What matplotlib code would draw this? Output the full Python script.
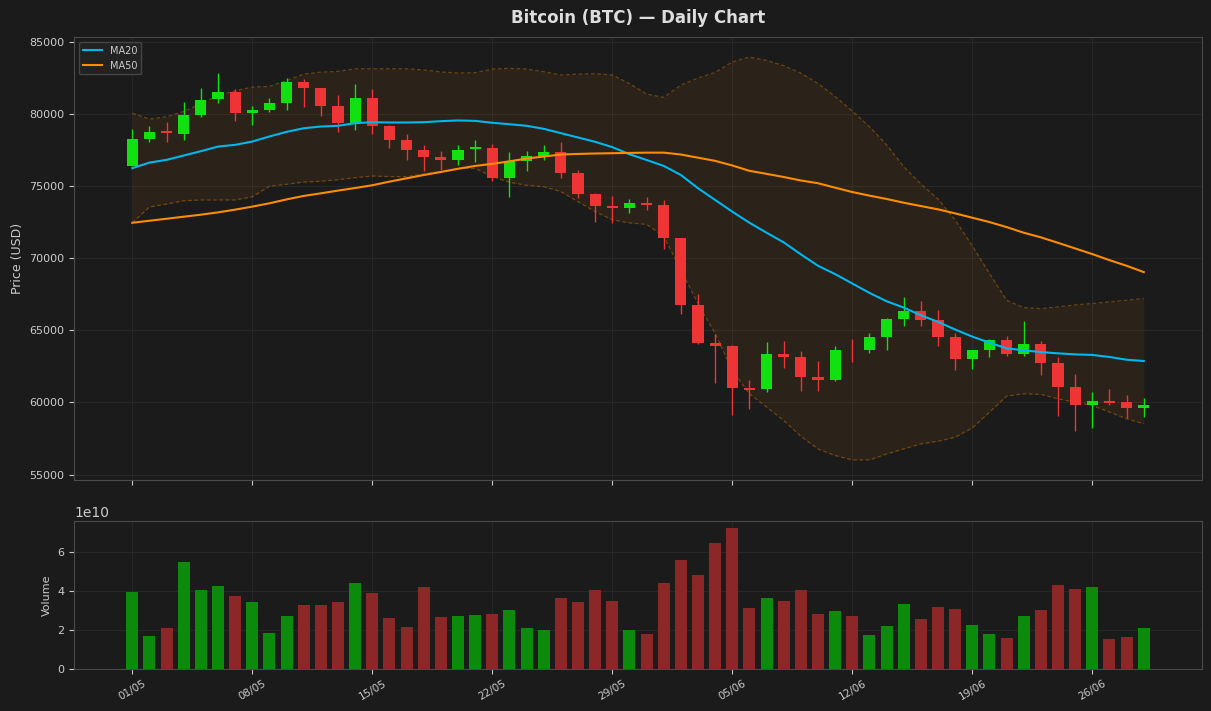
import matplotlib
matplotlib.use('Agg')
import matplotlib.pyplot as plt
import matplotlib.dates as mdates
import numpy as np
import pandas as pd

# ---------------- data ----------------
dates = pd.date_range('2024-05-01', periods=60, freq='D')

opens = [76400, 78260, 78800, 78610, 79930, 81040, 81530, 80070, 80280, 80760,
         82220, 81810, 80560, 79380, 81110, 79170, 78190, 77500, 77010, 76810,
         77550, 77640, 75560, 76740, 77080, 77360, 75900, 74440, 73610, 73470,
         73820, 73680, 71390, 66740, 64100, 63890, 61000, 60900, 63330, 63130,
         61740, 61530, 63650, 63610, 64510, 65760, 66320, 65690, 64510, 62990,
         63610, 64310, 63330, 64030, 62710, 61040, 59790, 60100, 60000, 59580]
highs = [78960, 79170, 79440, 80830, 81810, 82850, 81710, 80560, 81110, 82500,
         82430, 81810, 81320, 82080, 81740, 79240, 78610, 77850, 77430, 77850,
         78190, 77920, 77360, 77430, 77850, 78060, 76110, 74510, 74310, 74100,
         74240, 74030, 71390, 67500, 64720, 63960, 61530, 64170, 64240, 63540,
         62850, 63890, 64380, 64790, 65830, 67290, 67010, 66390, 64790, 63610,
         64380, 64580, 65620, 64240, 63120, 61940, 60690, 60900, 60490, 60280]
lows = [76350, 78050, 78060, 78190, 79790, 80760, 79510, 79240, 80140, 80280,
        80490, 79860, 78750, 78890, 78610, 77640, 76810, 76040, 76110, 76460,
        76670, 75350, 74240, 76040, 76810, 75560, 74170, 72500, 72430, 73130,
        73330, 70630, 66110, 64030, 61320, 59100, 59510, 60690, 62360, 60760,
        60760, 61460, 62780, 63400, 63610, 65280, 65280, 63890, 62220, 62290,
        63120, 63190, 63190, 61870, 59030, 58050, 58260, 59790, 58890, 58960]
closes = [78260, 78750, 78650, 79930, 80970, 81530, 80070, 80280, 80760, 82220,
          81810, 80560, 79380, 81110, 79170, 78190, 77500, 77010, 76810, 77500,
          77680, 75560, 76740, 77080, 77360, 75900, 74440, 73610, 73470, 73820,
          73680, 71390, 66740, 64100, 63890, 60970, 60880, 63330, 63130, 61740,
          61530, 63610, 63620, 64510, 65760, 66320, 65690, 64510, 62990, 63610,
          64310, 63330, 64030, 62710, 61040, 59790, 60070, 59990, 59580, 59790]
volumes = [3.94e10, 1.69e10, 2.10e10, 5.47e10, 4.04e10, 4.24e10, 3.73e10, 3.43e10, 1.84e10, 2.71e10,
           3.27e10, 3.27e10, 3.43e10, 4.40e10, 3.89e10, 2.61e10, 2.15e10, 4.19e10, 2.66e10, 2.71e10,
           2.76e10, 2.81e10, 3.02e10, 2.10e10, 1.99e10, 3.63e10, 3.43e10, 4.04e10, 3.48e10, 1.99e10,
           1.79e10, 4.40e10, 5.57e10, 4.81e10, 6.44e10, 7.21e10, 3.12e10, 3.63e10, 3.48e10, 4.04e10,
           2.81e10, 2.97e10, 2.71e10, 1.74e10, 2.20e10, 3.32e10, 2.56e10, 3.17e10, 3.07e10, 2.25e10,
           1.79e10, 1.59e10, 2.71e10, 3.02e10, 4.30e10, 4.09e10, 4.19e10, 1.53e10, 1.64e10, 2.10e10]
ma20 = [76230, 76620, 76810, 77110, 77410, 77730, 77850, 78080, 78430, 78750,
        79000, 79120, 79170, 79350, 79420, 79400, 79400, 79420, 79490, 79540,
        79510, 79380, 79280, 79170, 78960, 78660, 78360, 78060, 77690, 77200,
        76800, 76390, 75760, 74840, 74030, 73220, 72450, 71760, 71090, 70260,
        69470, 68890, 68240, 67590, 67010, 66570, 66040, 65580, 65050, 64560,
        64140, 63750, 63610, 63490, 63400, 63330, 63290, 63150, 62960, 62870]
ma50 = [72450, 72590, 72730, 72870, 73010, 73170, 73360, 73570, 73800, 74070,
        74310, 74490, 74680, 74860, 75050, 75300, 75530, 75760, 75970, 76190,
        76390, 76530, 76710, 76900, 77040, 77180, 77220, 77250, 77270, 77290,
        77310, 77310, 77180, 76960, 76740, 76420, 76050, 75840, 75620, 75380,
        75190, 74880, 74580, 74330, 74100, 73840, 73610, 73380, 73100, 72800,
        72500, 72150, 71760, 71440, 71060, 70670, 70280, 69860, 69470, 69030]
bb_upper = [80040, 79640, 79790, 80160, 80700, 81250, 81600, 81850, 81900, 82300,
            82750, 82890, 82940, 83120, 83120, 83120, 83120, 83040, 82900, 82830,
            82850, 83100, 83150, 83100, 82920, 82690, 82750, 82780, 82690, 82100,
            81370, 81140, 81990, 82480, 82870, 83590, 83930, 83700, 83330, 82820,
            82100, 81200, 80200, 79100, 77850, 76340, 75140, 74100, 72640, 70850,
            68940, 67080, 66570, 66500, 66620, 66760, 66850, 66970, 67080, 67200]
bb_lower = [72450, 73540, 73750, 73980, 74030, 74030, 74030, 74250, 74980, 75120,
            75270, 75330, 75430, 75580, 75690, 75650, 75650, 75830, 75990, 76220,
            76220, 75650, 75260, 75050, 74950, 74610, 73910, 73220, 72660, 72440,
            72340, 71520, 69170, 66850, 64770, 62220, 60600, 59680, 58750, 57650,
            56780, 56320, 56020, 56020, 56430, 56780, 57130, 57310, 57590, 58230,
            59330, 60440, 60600, 60560, 60250, 60020, 59790, 59330, 58870, 58520]

# ---------------- style ----------------
BG = '#1b1b1b'
GRID = '#272727'
SPINE = '#4a4a4a'
TXT = '#cccccc'
UP = '#11e011'
DOWN = '#ee3434'
VUP = '#0b8a0b'
VDOWN = '#8b2727'

plt.rcParams['font.family'] = ['DejaVu Sans']

fig = plt.figure(figsize=(12.11, 7.11), dpi=100, facecolor=BG)
ax = fig.add_axes([0.0611, 0.3249, 0.9315, 0.6231])
axv = fig.add_axes([0.0611, 0.0591, 0.9315, 0.2081], sharex=ax)

for a in (ax, axv):
    a.set_facecolor(BG)
    for s in a.spines.values():
        s.set_color(SPINE)
    a.tick_params(colors=TXT, labelsize=8)
    a.grid(True, color=GRID, linewidth=0.8)
    a.set_axisbelow(True)

o = np.array(opens); c = np.array(closes)
up = c >= o
cols = np.where(up, UP, DOWN)

# Bollinger band
ax.fill_between(dates, bb_lower, bb_upper, color='#ff8c00', alpha=0.07, linewidth=0, zorder=1)
ax.plot(dates, bb_upper, color='#ff8c00', alpha=0.35, linestyle='--', linewidth=0.9,
        dashes=(3, 2), zorder=1)
ax.plot(dates, bb_lower, color='#ff8c00', alpha=0.35, linestyle='--', linewidth=0.9,
        dashes=(3, 2), zorder=1)

# candles
ax.vlines(dates, lows, highs, colors=cols, linewidth=1, zorder=3)
ax.bar(dates, c - o, bottom=o, width=0.65, color=cols, zorder=4)

# moving averages
ax.plot(dates, ma20, color='#00b8f0', linewidth=1.5, label='MA20', zorder=5)
ax.plot(dates, ma50, color='#ff8c00', linewidth=1.5, label='MA50', zorder=5)

leg = ax.legend(loc='upper left', fontsize=7, facecolor='#222222', edgecolor='#444444',
                labelcolor=TXT, framealpha=1)

ax.set_ylabel('Price (USD)', color=TXT, fontsize=9)
plt.setp(ax.get_xticklabels(), visible=False)

# volume
vcols = np.where(up, VUP, VDOWN)
axv.bar(dates, volumes, width=0.7, color=vcols, zorder=3)
axv.set_ylabel('Volume', color=TXT, fontsize=8)
axv.yaxis.get_offset_text().set_color(TXT)
axv.yaxis.get_offset_text().set_fontsize(10)

axv.xaxis.set_major_locator(mdates.WeekdayLocator(byweekday=mdates.WE))
axv.xaxis.set_major_formatter(mdates.DateFormatter('%d/%m'))
plt.setp(axv.get_xticklabels(), rotation=30, fontsize=7.5, color=TXT)
axv.set_xlim(dates[0] - pd.Timedelta(days=3.4), dates[0] + pd.Timedelta(days=62.4))

fig.text(0.527, 0.9747, 'Bitcoin (BTC) — Daily Chart', ha='center', va='center',
         fontsize=12, fontweight='bold', color='#dddddd')

fig.savefig('out.png', dpi=100, facecolor=BG)
